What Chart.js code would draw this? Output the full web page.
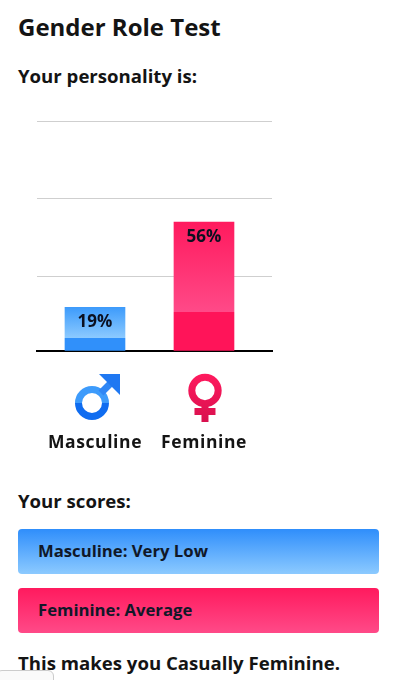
<!DOCTYPE html>
<html>
<head>
<meta charset="utf-8">
<title>Gender Role Test</title>
<script src="https://cdn.jsdelivr.net/npm/chart.js@4"></script>
<style>
  html, body { margin: 0; padding: 0; background: #fff; }
  body { width: 397px; height: 680px; overflow: hidden; position: relative; font-family: 'Open Sans', sans-serif; color: #141414; }
  .txt { position: absolute; left: 18px; margin: 0; font-weight: 700; white-space: nowrap; line-height: 1; }
  h1.txt { top: 15px; font-size: 24px; }
  .sub { font-size: 18.6px; }
  .score { position: absolute; left: 18px; width: 361px; height: 45px; border-radius: 4px; box-sizing: border-box; padding-left: 20px; line-height: 43px; font-size: 16.7px; font-weight: 700; color: #101828; }
  #chartBox { position: absolute; left: 0; top: 100px; width: 397px; height: 360px; }
  #myChart { display: block; }
  #stub { position: absolute; left: -4px; top: 670px; width: 56px; height: 20px; border: 1px solid #ccc; border-radius: 6px; background: #fafafa; }
</style>
</head>
<body>
<h1 class="txt">Gender Role Test</h1>
<p class="txt sub" style="top:67px">Your personality is:</p>
<div id="chartBox"><canvas id="myChart" width="397" height="360"></canvas></div>
<p class="txt sub" style="top:492px">Your scores:</p>
<div class="score" id="score0" style="top:529px;background:linear-gradient(#2f8efb,#8ccaff)"></div>
<div class="score" id="score1" style="top:588px;background:linear-gradient(#ff1a5e,#ff4a88)"></div>
<p class="txt sub" style="top:654px">This makes you Casually Feminine.</p>
<div id="stub"></div>

<script>
'use strict'

const categories = ['Masculine', 'Feminine'];
const percentValues = [19, 56];
const gridTicks = [0, 32.6, 66.3, 100];
const barPositions = [1, 2];
const scoreWords = ['Very Low', 'Average'];

// top colour, light colour, solid foot colour of each bar
const barColors = [
  ['#3d9bfb', '#8ccaff', '#3090fa'],
  ['#ff1a5e', '#ff4a88', '#ff1459'],
];

for (let i = 0; i < categories.length; i++) {
  document.getElementById('score' + i).textContent = `${categories[i]}: ${scoreWords[i]}`;
}

function barFill(context) {
  const chart = context.chart;
  const i = context.dataIndex;
  if (!chart.chartArea) {
    return barColors[i][0];
  }
  const yScale = chart.scales.y;
  const top = yScale.getPixelForValue(percentValues[i]);
  const base = yScale.getPixelForValue(0);
  const g = chart.ctx.createLinearGradient(0, top, 0, base);
  g.addColorStop(0, barColors[i][0]);
  g.addColorStop(0.7, barColors[i][1]);
  g.addColorStop(0.7, barColors[i][2]);
  g.addColorStop(1, barColors[i][2]);
  return g;
}

// percent text near the top of each bar
const valueLabels = {
  id: 'valueLabels',
  beforeDraw(chart) {
    // the axis labels are spaced out a little
    chart.ctx.letterSpacing = '0.6px';
  },
  afterDatasetsDraw(chart) {
    const ctx = chart.ctx;
    const bars = chart.getDatasetMeta(0).data;
    ctx.save();
    ctx.letterSpacing = '0px';
    ctx.font = "700 17px 'Open Sans'";
    ctx.textAlign = 'center';
    ctx.textBaseline = 'middle';
    ctx.fillStyle = '#0b1020';
    for (let i = 0; i < bars.length; i++) {
      ctx.fillText(percentValues[i] + '%', bars[i].x, bars[i].y + 15);
    }
    ctx.restore();
  }
};

function drawMars(ctx, x) {
  const cx = x - 3;
  const cy = 303;
  const g = ctx.createLinearGradient(0, cy - 17, 0, cy + 17);
  g.addColorStop(0, '#3d9bfb');
  g.addColorStop(0.5, '#3d9bfb');
  g.addColorStop(0.5, '#0f6cf0');
  g.addColorStop(1, '#0f6cf0');
  ctx.strokeStyle = g;
  ctx.lineWidth = 7;
  ctx.beginPath();
  ctx.arc(cx, cy, 13.5, 0, Math.PI * 2);
  ctx.stroke();
  ctx.strokeStyle = '#2f86f5';
  ctx.beginPath();
  ctx.moveTo(cx + 9, cy - 10);
  ctx.lineTo(x + 19, 280);
  ctx.stroke();
  ctx.fillStyle = '#1f78f2';
  ctx.beginPath();
  ctx.moveTo(x + 4, 274);
  ctx.lineTo(x + 25, 274);
  ctx.lineTo(x + 25, 295);
  ctx.closePath();
  ctx.fill();
}

function drawVenus(ctx, x) {
  const cx = x + 1;
  const g = ctx.createLinearGradient(0, 274, 0, 322);
  g.addColorStop(0, '#ff1a5e');
  g.addColorStop(1, '#d8104e');
  ctx.strokeStyle = g;
  ctx.fillStyle = g;
  ctx.lineWidth = 7;
  ctx.beginPath();
  ctx.arc(cx, 290.5, 13.2, 0, Math.PI * 2);
  ctx.stroke();
  ctx.fillRect(cx - 3.5, 303, 7, 19);
  ctx.fillRect(cx - 10.5, 308, 21, 7);
}

// gender symbols between the axis and its labels
const genderIcons = {
  id: 'genderIcons',
  afterDraw(chart) {
    const ctx = chart.ctx;
    const xScale = chart.scales.x;
    ctx.save();
    drawMars(ctx, xScale.getPixelForValue(barPositions[0]));
    drawVenus(ctx, xScale.getPixelForValue(barPositions[1]));
    ctx.restore();
  }
};

const points = [];
for (let i = 0; i < categories.length; i++) {
  points.push({ x: barPositions[i], y: percentValues[i] });
}

let chart = new Chart(document.getElementById('myChart').getContext('2d'), {
  type: 'bar',
  data: {
    datasets: [{
      data: points,
      backgroundColor: barFill,
      borderWidth: 0,
      barThickness: 60
    }]
  },
  plugins: [valueLabels, genderIcons],
  options: {
    responsive: false,
    animation: false,
    devicePixelRatio: 1,
    layout: { padding: { left: 37, right: 125, top: 21, bottom: 0 } },
    plugins: { legend: { display: false }, tooltip: { enabled: false } },
    scales: {
      x: {
        type: 'linear',
        offset: false,
        min: 0.468,
        max: 2.624,
        afterBuildTicks(axis) {
          axis.ticks = barPositions.map(v => ({ value: v }));
        },
        afterFit(axis) {
          axis.height = 109;
          axis.paddingLeft = 0;
          axis.paddingRight = 0;
        },
        grid: { display: false, offset: false },
        border: { color: '#000', width: 2 },
        ticks: {
          callback: (v) => categories[barPositions.indexOf(v)],
          maxRotation: 0,
          autoSkip: false,
          padding: 74,
          color: '#141414',
          font: { family: 'Open Sans', size: 17.5, weight: '700' }
        }
      },
      y: {
        min: 0,
        max: 100,
        afterBuildTicks(axis) {
          axis.ticks = gridTicks.map(v => ({ value: v }));
        },
        grid: { color: '#cfcfcf', lineWidth: 1, drawTicks: false },
        border: { display: false },
        ticks: { display: false }
      }
    }
  }
});
</script>
</body>
</html>
